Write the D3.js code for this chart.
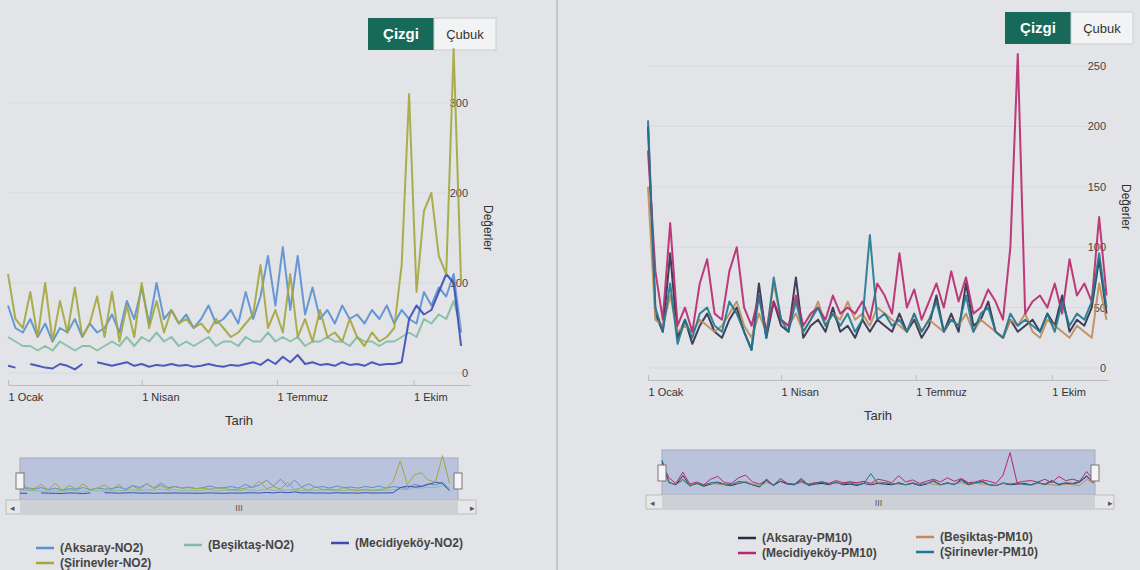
<!DOCTYPE html><html><head><meta charset="utf-8">
<script src="https://cdn.jsdelivr.net/npm/d3@7/dist/d3.min.js"></script>
<style>body{margin:0;background:#e2e4e8;font-family:"Liberation Sans",Arial,sans-serif}</style></head><body>
<svg id="c" width="1140" height="570"></svg>
<script>
const startDate = new Date(2015,0,1), stepDays = 5;
const tickDates = ["2015-01-01","2015-04-01","2015-07-01","2015-10-01"];
const tickLabels = ["1 Ocak","1 Nisan","1 Temmuz","1 Ekim"];
const no2Names = ["(Aksaray-NO2)","(Beşiktaş-NO2)","(Mecidiyeköy-NO2)","(Şirinevler-NO2)"];
const no2Colors = ["#5a8fd2","#82bca2","#3a4db6","#a4a63c"];
const no2Aksaray = [75,50,45,60,40,55,35,50,45,60,40,55,45,50,65,45,80,60,95,55,100,60,70,55,65,50,60,75,55,60,70,55,90,60,85,130,75,140,70,130,65,95,60,70,55,75,60,65,55,70,60,75,55,70,60,55,90,75,95,85,110,45];
const no2Besiktas = [40,35,30,30,25,30,25,35,30,25,30,30,25,30,35,30,40,30,40,35,45,35,40,30,35,30,35,40,30,35,35,30,40,35,35,45,35,40,35,40,30,35,35,40,35,35,30,40,35,35,30,35,35,40,45,40,60,55,65,60,80,50];
const no2Mecidiyekoy = [8,6,null,10,8,6,5,10,8,4,10,null,12,10,8,10,12,8,10,7,9,8,10,8,9,7,8,10,8,7,9,8,10,12,9,15,10,18,12,20,10,12,9,10,8,12,9,10,8,12,9,10,10,12,60,75,65,70,90,110,100,30];
const no2Sirinevler = [110,60,50,90,40,100,35,80,45,95,40,55,85,40,90,35,75,40,100,50,80,45,70,55,60,50,55,45,60,50,40,45,55,65,120,50,70,45,110,40,60,35,70,40,45,35,60,40,30,45,35,40,50,120,310,90,180,200,130,110,360,100];
const no2Ticks = [0,100,200,300];
const pmNames = ["(Aksaray-PM10)","(Beşiktaş-PM10)","(Mecidiyeköy-PM10)","(Şirinevler-PM10)"];
const pmColors = ["#2c2c48","#c08a5c","#b8276c","#1f7890"];
const pmAksaray = [200,45,30,95,25,40,20,35,45,30,25,40,50,30,15,70,25,55,35,30,75,25,35,40,30,50,30,35,25,40,30,40,35,30,45,30,40,25,35,60,30,45,30,70,35,40,55,30,25,40,30,35,40,30,45,35,60,30,40,35,50,90,45];
const pmBesiktas = [150,40,35,60,30,35,30,40,35,30,35,45,55,35,25,45,30,70,40,35,45,30,40,55,35,45,40,55,40,45,35,50,45,40,35,30,45,30,40,35,30,40,35,45,30,40,35,30,25,40,35,45,30,25,40,35,30,25,35,30,25,70,40];
const pmMecidiyekoy = [180,80,40,120,35,50,30,70,90,45,40,80,100,50,35,60,30,55,40,35,60,35,45,50,40,60,45,50,45,55,40,70,60,45,95,50,65,40,55,70,50,80,55,75,45,50,65,55,40,100,260,45,55,60,50,70,45,90,60,70,55,125,60];
const pmSirinevler = [205,50,30,70,20,40,25,45,50,35,30,55,45,30,15,60,25,75,40,30,55,30,40,50,35,45,35,45,30,40,110,40,45,35,40,30,45,30,40,55,30,40,35,60,30,45,50,30,25,45,35,40,35,30,45,30,55,35,45,40,55,95,50];
const pmTicks = [0,50,100,150,200,250];

const svg = d3.select("#c");
svg.append("line").attr("x1",557).attr("x2",557).attr("y1",0).attr("y2",570).attr("stroke","#b8bcc2").attr("stroke-width",1.5);
const dt = i => d3.timeDay.offset(startDate, i*stepDays);

function chart(o){
  const x = d3.scaleTime().domain([startDate,new Date(2015,10,8)]).range([o.x0,o.x1]);
  const y = d3.scaleLinear().domain([0,o.ymax]).range([o.yb,o.yt]);
  const g = svg.append("g");
  g.append("rect").attr("x",o.bx).attr("y",o.by).attr("width",66).attr("height",32).attr("fill","#17695a");
  g.append("text").attr("x",o.bx+33).attr("y",o.by+21).attr("text-anchor","middle").attr("fill","#fff").attr("font-size",15).attr("font-weight","bold").text("Çizgi");
  g.append("rect").attr("x",o.bx+66).attr("y",o.by).attr("width",62).attr("height",32).attr("fill","#f2f3f5").attr("stroke","#ccc");
  g.append("text").attr("x",o.bx+97).attr("y",o.by+21).attr("text-anchor","middle").attr("fill","#333").attr("font-size",13).text("Çubuk");
  g.selectAll(".gl").data(o.ticks).join("line").attr("x1",o.x0).attr("x2",o.x1).attr("y1",d=>y(d)).attr("y2",d=>y(d)).attr("stroke","#d6d9de");
  g.selectAll(".yl").data(o.ticks).join("text").attr("x",o.x1-2).attr("y",d=>y(d)+4).attr("text-anchor","end").attr("font-size",11).attr("fill","#444").text(d=>d);
  g.append("text").attr("transform",`translate(${o.x1+14},${(o.yb+o.yt)/2-10}) rotate(90)`).attr("text-anchor","middle").attr("font-size",12).attr("fill","#333").text("Değerler");
  const ax = g.append("g").attr("transform",`translate(0,${o.yb+12})`)
    .call(d3.axisBottom(x).tickValues(tickDates.map(d=>new Date(d+"T00:00"))).tickFormat((d,i)=>tickLabels[i]).tickSize(5).tickSizeOuter(0));
  ax.select(".domain").attr("stroke","#bbb"); ax.selectAll("line").attr("stroke","#bbb").attr("transform","translate(0,-5)");
  ax.selectAll("text").attr("text-anchor","start").attr("font-size",11).attr("fill","#333").attr("font-family","Liberation Sans");
  g.append("text").attr("x",(o.x0+o.x1)/2).attr("y",o.yb+52).attr("text-anchor","middle").attr("font-size",13).attr("fill","#333").text("Tarih");
  const line = d3.line().defined(d=>d!=null).x((d,i)=>x(dt(i))).y(d=>y(d)).curve(d3.curveLinear);
  o.series.forEach((s,k)=>g.append("path").attr("d",line(s)).attr("fill","none").attr("stroke",o.colors[k]).attr("stroke-width",2).attr("stroke-linejoin","round").attr("opacity",0.9));
  g.append("rect").attr("x",o.nx0).attr("y",o.ny).attr("width",o.nx1-o.nx0).attr("height",o.nh).attr("fill","#b9c3db").attr("stroke","#aab");
  const nxs = d3.scaleTime().domain(x.domain()).range([o.nx0,o.nx1]);
  const nys = d3.scaleLinear().domain([0,o.ymax]).range([o.ny+o.nh-6,o.ny+4]);
  const nl = d3.line().defined(d=>d!=null).x((d,i)=>nxs(dt(i))).y(d=>nys(d));
  o.series.forEach((s,k)=>g.append("path").attr("d",nl(s)).attr("fill","none").attr("stroke",o.colors[k]).attr("stroke-width",1));
  [o.nx0,o.nx1].forEach(h=>g.append("rect").attr("x",h-4).attr("y",o.ny+15).attr("width",8).attr("height",16).attr("fill","#f4f4f4").attr("stroke","#777"));
  g.append("rect").attr("x",o.x0-2).attr("y",o.ny+o.nh).attr("width",o.x1-o.x0+8).attr("height",14).attr("fill","#e6e7ea").attr("stroke","#bbb");
  g.append("rect").attr("x",o.nx0).attr("y",o.ny+o.nh+1).attr("width",o.nx1-o.nx0).attr("height",12).attr("fill","#cdd0d5");
  g.append("text").attr("x",(o.nx0+o.nx1)/2).attr("y",o.ny+o.nh+11).attr("text-anchor","middle").attr("font-size",9).attr("fill","#555").text("III");
  g.append("text").attr("x",o.x0+2).attr("y",o.ny+o.nh+11).attr("font-size",9).attr("fill","#555").text("◂");
  g.append("text").attr("x",o.x1).attr("y",o.ny+o.nh+11).attr("font-size",9).attr("fill","#555").text("▸");
  o.legend.forEach((p,k)=>{
    g.append("line").attr("x1",p[0]-24).attr("x2",p[0]-6).attr("y1",p[1]-4).attr("y2",p[1]-4).attr("stroke",o.colors[k]).attr("stroke-width",2.5);
    g.append("text").attr("x",p[0]).attr("y",p[1]).attr("font-size",12).attr("font-weight","bold").attr("fill","#444").text(o.names[k]);
  });
}
chart({x0:8,x1:470,yb:373,yt:103,ymax:300,ticks:no2Ticks,bx:368,by:18,series:[no2Aksaray,no2Besiktas,no2Mecidiyekoy,no2Sirinevler],colors:no2Colors,names:no2Names,
  nx0:20,nx1:458,ny:458,nh:42,legend:[[60,552],[208,549],[355,547],[60,567]]});
chart({x0:648,x1:1108,yb:368,yt:66,ymax:250,ticks:pmTicks,bx:1005,by:12,series:[pmAksaray,pmBesiktas,pmMecidiyekoy,pmSirinevler],colors:pmColors,names:pmNames,
  nx0:662,nx1:1095,ny:450,nh:45,legend:[[762,542],[940,541],[762,557],[940,556]]});
</script></body></html>
